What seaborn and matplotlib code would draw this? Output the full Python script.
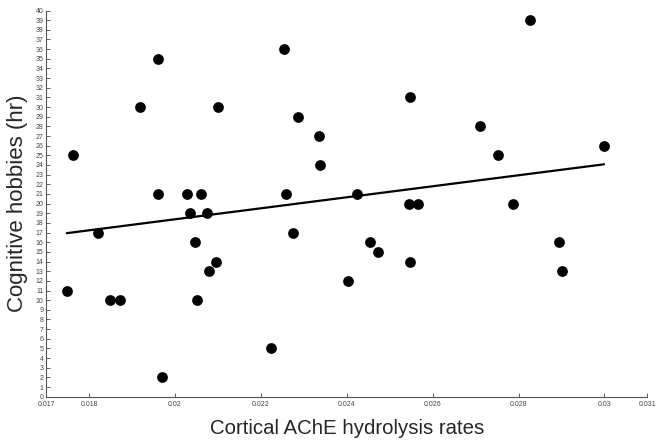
import matplotlib
matplotlib.use("Agg")
import matplotlib.pyplot as plt
import seaborn as sns
import numpy as np
import pandas as pd

# values
ache_rate = [0.01748, 0.01763, 0.01822, 0.01849, 0.01871, 0.01919, 0.01960, 0.01960,
             0.01971, 0.02029, 0.02034, 0.02046, 0.02051, 0.02060, 0.02074, 0.02080,
             0.02096, 0.02101, 0.02224, 0.02254, 0.02259, 0.02274, 0.02286, 0.02335,
             0.02338, 0.02403, 0.02425, 0.02453, 0.02473, 0.02544, 0.02547, 0.02548,
             0.02565, 0.02710, 0.02752, 0.02787, 0.02826, 0.02894, 0.02900, 0.02999]
hobby_hours = [11, 25, 17, 10, 10, 30, 35, 21,
               2, 21, 19, 16, 10, 21, 19, 13,
               14, 30, 5, 36, 21, 17, 29, 27,
               24, 12, 21, 16, 15, 20, 31, 14,
               20, 28, 25, 20, 39, 16, 13, 26]

x_ticks = [0.017, 0.018, 0.020, 0.022, 0.024, 0.026, 0.028, 0.030, 0.031]
x_tick_labels = ['0.017', '0.018', '0.02', '0.022', '0.024', '0.026', '0.028', '0.03', '0.031']
y_ticks = list(range(0, 41))

df = pd.DataFrame({'rate': ache_rate, 'hours': hobby_hours})

# least squares line over the data range
slope, intercept = np.polyfit(df['rate'], df['hours'], 1)
fit = pd.DataFrame({'rate': [df['rate'].min(), df['rate'].max()]})
fit['hours'] = intercept + slope * fit['rate']

sns.set_style('ticks')
plt.rcParams['font.family'] = ['Liberation Sans', 'DejaVu Sans']

fig = plt.figure(figsize=(6.63, 4.47), dpi=100)
ax = fig.add_axes([0.0695, 0.1125, 0.907, 0.864])

sns.scatterplot(x='rate', y='hours', data=df, color='black', s=60,
                edgecolor='black', linewidth=0, ax=ax, zorder=3)
sns.lineplot(x='rate', y='hours', data=fit, color='black', linewidth=1.6, ax=ax)

ax.set_xlim(0.017, 0.031)
ax.set_ylim(0, 40)
ax.set_xticks(x_ticks)
ax.set_xticklabels(x_tick_labels)
ax.set_yticks(y_ticks)
ax.tick_params(axis='both', direction='in', length=3, width=0.6,
               labelsize=5, colors='#444444', pad=2)
ax.tick_params(axis='x', pad=3)
for side in ['left', 'bottom']:
    ax.spines[side].set_color('#555555')
    ax.spines[side].set_linewidth(0.8)
sns.despine(ax=ax)

ax.set_xlabel('Cortical AChE hydrolysis rates', fontsize=14.7, labelpad=8)
ax.set_ylabel('Cognitive hobbies (hr)', fontsize=16, labelpad=5)

fig.savefig('out.png', dpi=100)
